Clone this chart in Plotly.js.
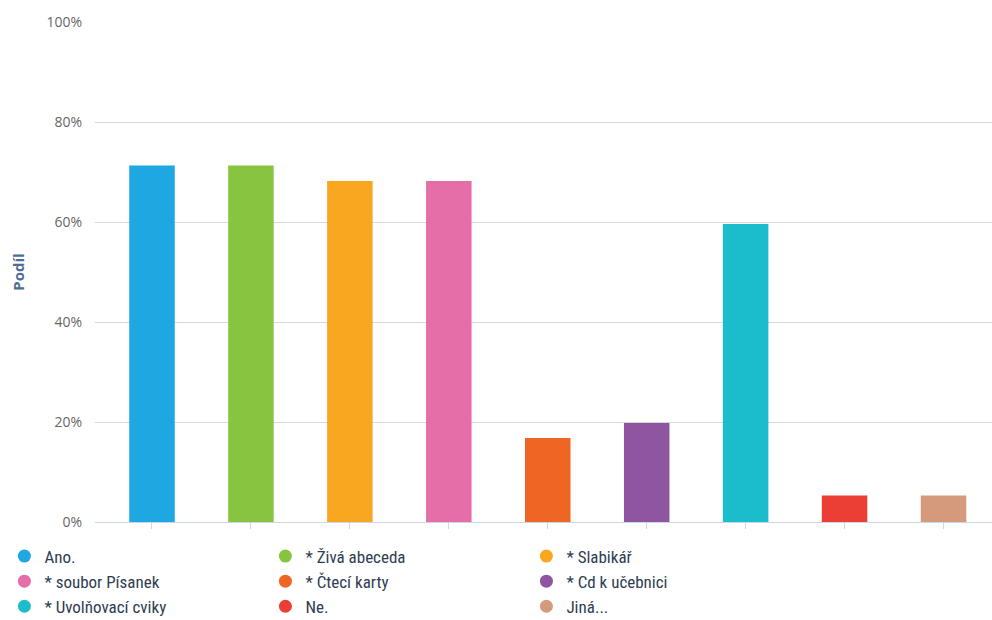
<!DOCTYPE html>
<html>
<head>
<meta charset="utf-8">
<script src="https://cdn.plot.ly/plotly-3.0.1.min.js"></script>
<style>html,body{margin:0;padding:0;background:#fff;}#chart{width:992px;height:620px;}</style>
</head>
<body>
<div id="chart"></div>
<script>
const categories = ["Ano.", "* Živá abeceda", "* Slabikář", "* soubor Písanek", "* Čtecí karty", "* Cd k učebnici", "* Uvolňovací cviky", "Ne.", "Jiná..."];
const shares = [71.3, 71.3, 68.2, 68.2, 16.8, 19.8, 59.6, 5.3, 5.3];
const colors = ["#1ea7e1", "#88c440", "#f9a621", "#e56ea8", "#ef6624", "#8e56a0", "#1bbdcd", "#eb3f35", "#d49a7b"];
const yTicks = [0, 20, 40, 60, 80, 100];
const yTickLabels = ["0%", "20%", "40%", "60%", "80%", "100%"];

const traces = [];
categories.forEach((c, i) => {
  traces.push({
    type: "bar", x: [c], y: [shares[i]], width: 0.46,
    marker: {color: colors[i]}, showlegend: false, hoverinfo: "x+y"
  });
});
categories.forEach((c, i) => {
  traces.push({
    type: "scatter", mode: "markers", x: [null], y: [null], name: c,
    marker: {color: colors[i], size: 13, symbol: "circle"}, showlegend: true
  });
});

const layout = {
  width: 992, height: 620,
  margin: {l: 95, r: 0, t: 22, b: 98, autoexpand: false},
  paper_bgcolor: "#ffffff", plot_bgcolor: "#ffffff",
  barmode: "overlay",
  font: {family: "Open Sans, sans-serif"},
  xaxis: {
    type: "category", categoryorder: "array", categoryarray: categories,
    range: [-0.576, 8.49], showticklabels: false,
    showline: true, linecolor: "#ccd6eb", linewidth: 1,
    ticks: "outside", ticklen: 6, tickcolor: "#ccd6eb", tickwidth: 1,
    showgrid: false, zeroline: false, fixedrange: true
  },
  yaxis: {
    range: [0, 100], tickvals: yTicks, ticktext: yTickLabels,
    showgrid: true, gridcolor: "#d9d9d9", gridwidth: 1.2, zeroline: false,
    tickfont: {size: 14, color: "#666666"}, ticklabelstandoff: 12,
    title: {text: "<b>Podíl</b>", font: {size: 15, color: "#4d6d94"}, standoff: 18}
  },
  legend: {
    orientation: "h", x: -0.101, xanchor: "left", y: -0.033, yanchor: "top",
    entrywidth: 216, entrywidthmode: "pixels",
    font: {size: 17, color: "#2f3d52", family: "Liberation Sans Narrow, Roboto Condensed, Open Sans, sans-serif"},
    itemclick: false, tracegroupgap: 0
  }
};

Plotly.newPlot("chart", traces, layout, {displayModeBar: false});
</script>
</body>
</html>
